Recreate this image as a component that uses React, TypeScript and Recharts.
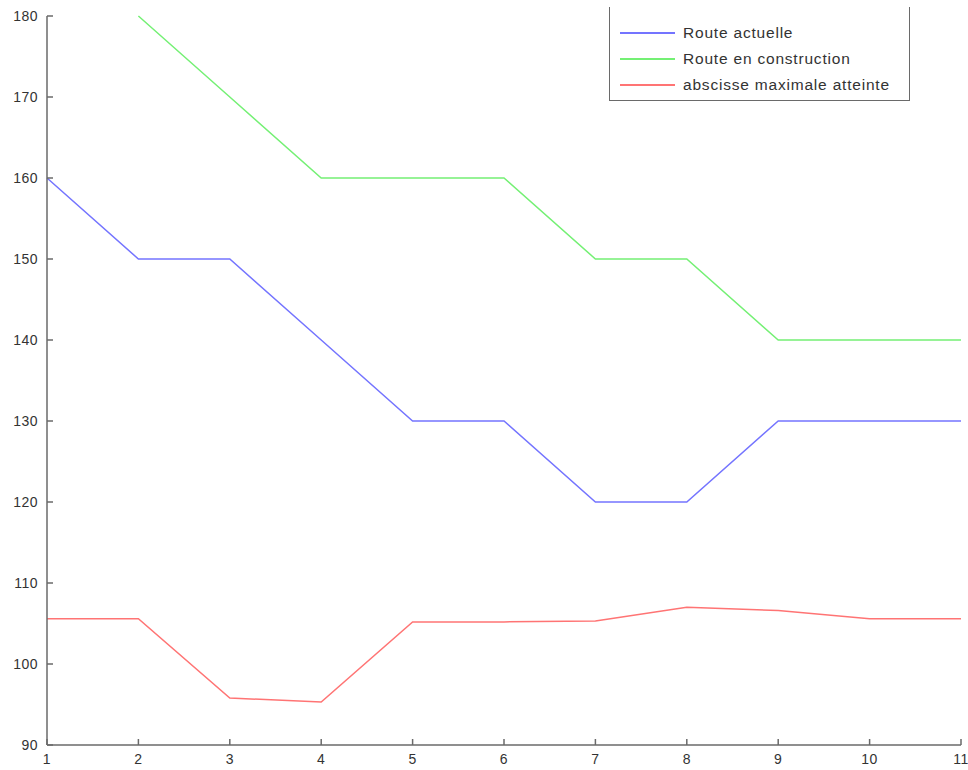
import React from 'react';
import { LineChart, Line, XAxis, YAxis, Legend } from 'recharts';

const xValues = [1, 2, 3, 4, 5, 6, 7, 8, 9, 10, 11];
const routeActuelle = [160, 150, 150, 140, 130, 130, 120, 120, 130, 130, 130];
const routeConstruction: (number | null)[] = [null, 180, 170, 160, 160, 160, 150, 150, 140, 140, 140];
const abscisseMax = [105.6, 105.6, 95.8, 95.3, 105.2, 105.2, 105.3, 107.0, 106.6, 105.6, 105.6];
const xTicks = [1, 2, 3, 4, 5, 6, 7, 8, 9, 10, 11];
const yTicks = [90, 100, 110, 120, 130, 140, 150, 160, 170, 180];

const seriesNames = ['Route actuelle', 'Route en construction', 'abscisse maximale atteinte'];
const seriesColors = ['#7474ff', '#74f074', '#ff7474'];

const data = xValues.map((x, i) => ({
  x,
  actuelle: routeActuelle[i],
  construction: routeConstruction[i],
  abscisse: abscisseMax[i],
}));

const FRAME = '#6a6a6a';
const FONT = '"Liberation Sans", Arial, sans-serif';

const BottomTick = (props: any) => {
  const { x, y, payload } = props;
  return (
    <g>
      <line x1={x} y1={y} x2={x} y2={y - 6} stroke={FRAME} strokeWidth={1.5} />
      <text x={x} y={y + 19} textAnchor="middle" fontFamily={FONT} fontSize={14} fill="#333" letterSpacing={0.5}>
        {payload.value}
      </text>
    </g>
  );
};

const LeftTick = (props: any) => {
  const { x, y, payload } = props;
  return (
    <g>
      <line x1={x} y1={y} x2={x + 6} y2={y} stroke={FRAME} strokeWidth={1.5} />
      <text x={x - 9} y={y + 5} textAnchor="end" fontFamily={FONT} fontSize={14} fill="#333" letterSpacing={0.5}>
        {payload.value}
      </text>
    </g>
  );
};

const TopTick = (props: any) => {
  const { x, y } = props;
  return <line x1={x} y1={y} x2={x} y2={y + 6} stroke={FRAME} strokeWidth={1.5} />;
};

const RightTick = (props: any) => {
  const { x, y } = props;
  return <line x1={x} y1={y} x2={x - 6} y2={y} stroke={FRAME} strokeWidth={1.5} />;
};

const LegendBox = () => (
  <div
    style={{
      width: 301,
      height: 94,
      boxSizing: 'border-box',
      background: '#fff',
      borderLeft: `1.5px solid ${FRAME}`,
      borderRight: `1.5px solid ${FRAME}`,
      borderBottom: `1.5px solid ${FRAME}`,
      position: 'relative',
    }}
  >
    {seriesNames.map((name, i) => (
      <div
        key={name}
        style={{
          position: 'absolute',
          left: 10,
          top: 17 + i * 26,
          height: 18,
          display: 'flex',
          alignItems: 'center',
          whiteSpace: 'nowrap',
        }}
      >
        <div style={{ width: 55, height: 2, background: seriesColors[i], marginRight: 8 }} />
        <span style={{ fontFamily: FONT, fontSize: 15.5, color: '#333', letterSpacing: 0.8 }}>{name}</span>
      </div>
    ))}
  </div>
);

export default function App() {
  return (
    <div style={{ position: 'absolute', left: 0, top: 0, background: '#fff' }}>
      <LineChart width={968} height={770} data={data} margin={{ top: 16, right: 7, bottom: 0, left: 0 }}>
        <XAxis
          dataKey="x"
          type="number"
          domain={[1, 11]}
          ticks={xTicks}
          height={25}
          tickSize={0}
          tickMargin={0}
          tick={<BottomTick />}
          axisLine={{ stroke: FRAME, strokeWidth: 1.5 }}
          interval={0}
        />
        <XAxis
          xAxisId="top"
          dataKey="x"
          type="number"
          orientation="top"
          domain={[1, 11]}
          ticks={xTicks}
          height={0}
          tickSize={0}
          tickMargin={0}
          tick={<TopTick />}
          axisLine={{ stroke: FRAME, strokeWidth: 1.5 }}
          interval={0}
        />
        <YAxis
          type="number"
          domain={[90, 180]}
          ticks={yTicks}
          width={47}
          tickSize={0}
          tickMargin={0}
          tick={<LeftTick />}
          axisLine={{ stroke: FRAME, strokeWidth: 1.5 }}
          interval={0}
        />
        <YAxis
          yAxisId="right"
          orientation="right"
          type="number"
          domain={[90, 180]}
          ticks={yTicks}
          width={0}
          tickSize={0}
          tickMargin={0}
          tick={<RightTick />}
          axisLine={{ stroke: FRAME, strokeWidth: 1.5 }}
          interval={0}
        />
        <Line
          dataKey="actuelle"
          name={seriesNames[0]}
          stroke={seriesColors[0]}
          strokeWidth={1.5}
          dot={false}
          isAnimationActive={false}
        />
        <Line
          dataKey="construction"
          name={seriesNames[1]}
          stroke={seriesColors[1]}
          strokeWidth={1.5}
          dot={false}
          isAnimationActive={false}
        />
        <Line
          dataKey="abscisse"
          name={seriesNames[2]}
          stroke={seriesColors[2]}
          strokeWidth={1.5}
          dot={false}
          isAnimationActive={false}
        />
        <Legend
          layout="horizontal"
          verticalAlign="middle"
          align="center"
          content={<LegendBox />}
          wrapperStyle={{ position: 'absolute', left: 609, top: 7, width: 301, height: 94, margin: 0 }}
        />
      </LineChart>
    </div>
  );
}
